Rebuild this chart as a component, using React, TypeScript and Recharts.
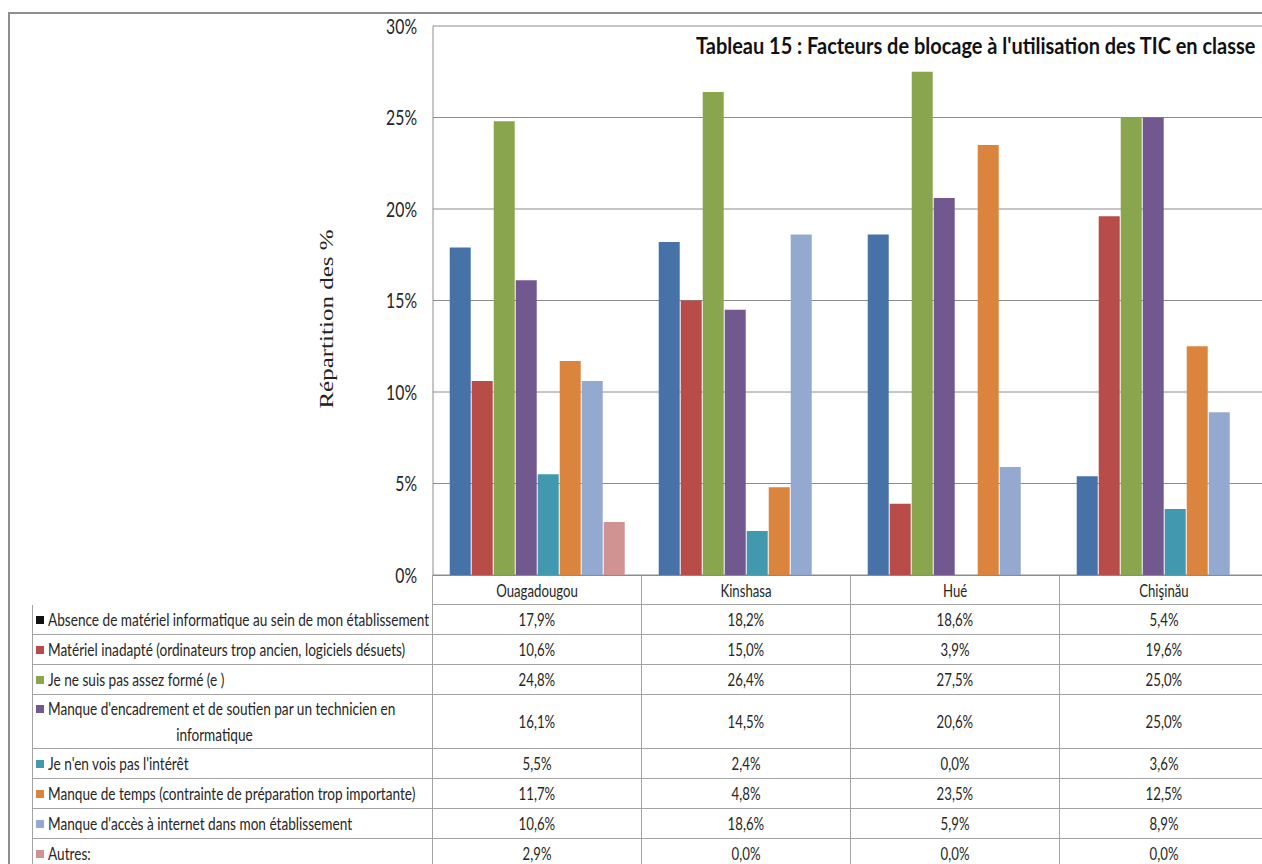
import React from "react";
import { Bar, BarChart, CartesianGrid, XAxis, YAxis } from "recharts";

const categories = ["Ouagadougou", "Kinshasa", "Hué", "Chişinău"];

const seriesNames = [
  "Absence de matériel informatique au sein de mon établissement",
  "Matériel inadapté (ordinateurs trop ancien, logiciels désuets)",
  "Je ne suis pas assez formé (e )",
  "Manque d'encadrement et de soutien par un technicien en\ninformatique",
  "Je n'en vois pas l'intérêt",
  "Manque de temps (contrainte de préparation trop importante)",
  "Manque d'accès à internet dans mon établissement",
  "Autres:",
];

const absence = [17.9, 18.2, 18.6, 5.4];
const materiel = [10.6, 15.0, 3.9, 19.6];
const forme = [24.8, 26.4, 27.5, 25.0];
const encadrement = [16.1, 14.5, 20.6, 25.0];
const interet = [5.5, 2.4, 0.0, 3.6];
const temps = [11.7, 4.8, 23.5, 12.5];
const internet = [10.6, 18.6, 5.9, 8.9];
const autres = [2.9, 0.0, 0.0, 0.0];

const seriesValues = [absence, materiel, forme, encadrement, interet, temps, internet, autres];

const yTicks = [0, 5, 10, 15, 20, 25, 30];

const title = "Tableau 15 : Facteurs de blocage à l'utilisation des TIC en classe";

const barColors = ["#4672A8", "#B74C49", "#89A54E", "#71588F", "#4198AF", "#DB843D", "#93A9CF", "#D09392"];
const keyColors = ["#111111", ...barColors.slice(1)];

const data = categories.map((name, i) => {
  const row: Record<string, string | number> = { name };
  seriesValues.forEach((vals, s) => {
    row[`s${s}`] = vals[i];
  });
  return row;
});

const font = "Lato, 'Open Sans', sans-serif";
const lineColor = "#a3a3a3";
const gridColor = "#8c8c8c";
const textColor = "#262626";

const PLOT_LEFT = 433;
const COL_W = 209;
const LABEL_W = PLOT_LEFT - 32;

const fmt = (v: number) => v.toFixed(1).replace(".", ",") + "%";

// squeeze the title into the width it has in the original
function titleScale(width: number) {
  const ctx = document.createElement("canvas").getContext("2d");
  if (!ctx) return 0.92;
  ctx.font = `bold 22px ${font}`;
  const w = ctx.measureText(title).width;
  return w > 0 ? width / w : 0.92;
}

function Narrow({
  children,
  origin = "center",
  squeeze = 0.8,
}: {
  children: React.ReactNode;
  origin?: string;
  squeeze?: number;
}) {
  return (
    <span
      style={{
        display: "inline-block",
        whiteSpace: "nowrap",
        transform: `scaleX(${squeeze})`,
        transformOrigin: `${origin} center`,
      }}
    >
      {children}
    </span>
  );
}

function YTick(props: any) {
  const { x, y, payload } = props;
  return (
    <text
      x={x}
      y={y}
      dy="0.36em"
      textAnchor="end"
      fontFamily={font}
      fontSize={21}
      fill={textColor}
      transform={`translate(${x},0) scale(0.75,1) translate(${-x},0)`}
    >
      {payload.value}%
    </text>
  );
}

function Label({ text, color }: { text: string; color: string }) {
  const [first, second] = text.split("\n");
  const key = (
    <span
      style={{
        position: "absolute",
        left: 3,
        top: second ? 9 : "50%",
        marginTop: second ? 0 : -4,
        width: 8,
        height: 8,
        background: color,
      }}
    />
  );
  return (
    <div style={{ position: "relative", width: "100%" }}>
      {key}
      <div style={{ paddingLeft: 15, lineHeight: "26px" }}>
        <Narrow origin="left" squeeze={0.825}>
          {first}
        </Narrow>
      </div>
      {second && (
        <div style={{ textAlign: "center", lineHeight: "26px", marginLeft: -36 }}>
          <Narrow squeeze={0.825}>{second}</Narrow>
        </div>
      )}
    </div>
  );
}

function DataTable() {
  const cell: React.CSSProperties = {
    boxSizing: "border-box",
    width: COL_W,
    borderRight: `1px solid ${lineColor}`,
    borderBottom: `1px solid ${lineColor}`,
    display: "flex",
    alignItems: "center",
    justifyContent: "center",
  };
  return (
    <div
      style={{
        position: "absolute",
        left: 32,
        top: 575,
        fontFamily: font,
        fontSize: 16.5,
        color: textColor,
      }}
    >
      <div style={{ display: "flex", height: 30 }}>
        <div style={{ width: LABEL_W, boxSizing: "border-box", borderRight: `1px solid ${lineColor}` }} />
        {categories.map((c) => (
          <div key={c} style={{ ...cell, borderTop: `1px solid ${gridColor}`, paddingTop: 1 }}>
            <Narrow>{c}</Narrow>
          </div>
        ))}
      </div>
      {seriesNames.map((name, s) => {
        const tall = name.includes("\n");
        return (
          <div key={name} style={{ display: "flex", height: tall ? 54 : 30 }}>
            <div
              style={{
                ...cell,
                width: LABEL_W,
                borderLeft: `1px solid ${lineColor}`,
                justifyContent: "flex-start",
              }}
            >
              <Label text={name} color={keyColors[s]} />
            </div>
            {seriesValues[s].map((v, i) => (
              <div key={i} style={cell}>
                <Narrow>{fmt(v)}</Narrow>
              </div>
            ))}
          </div>
        );
      })}
    </div>
  );
}

export default function App() {
  const tScale = React.useMemo(() => titleScale(560), []);
  return (
    <div
      style={{
        position: "absolute",
        left: 0,
        top: 0,
        width: 1262,
        height: 864,
        overflow: "hidden",
        background: "#fff",
      }}
    >
      <div
        style={{
          position: "absolute",
          left: 8,
          top: 12,
          width: 1400,
          height: 1000,
          borderTop: "2px solid #8e8e8e",
          borderLeft: "2px solid #8e8e8e",
        }}
      />
      <div style={{ position: "absolute", left: 0, top: 0 }}>
        <BarChart
          width={1300}
          height={600}
          data={data}
          margin={{ top: 26, right: 31, bottom: 25, left: 373 }}
          barCategoryGap="8%"
          barGap={1}
        >
          <CartesianGrid vertical={false} stroke={gridColor} />
          <XAxis dataKey="name" hide />
          <YAxis
            domain={[0, 30]}
            ticks={yTicks}
            width={60}
            tickSize={0}
            tickMargin={16}
            tickLine={false}
            axisLine={{ stroke: gridColor }}
            tick={<YTick />}
            interval={0}
          />
          {seriesNames.map((name, s) => (
            <Bar
              key={name}
              dataKey={`s${s}`}
              name={name}
              fill={barColors[s]}
              isAnimationActive={false}
            />
          ))}
        </BarChart>
      </div>
      <div
        style={{
          position: "absolute",
          left: 696,
          top: 33,
          fontFamily: font,
          fontWeight: "bold",
          fontSize: 22,
          lineHeight: "26px",
          color: "#111",
          whiteSpace: "nowrap",
          transform: `scaleX(${tScale})`,
          transformOrigin: "left center",
        }}
      >
        {title}
      </div>
      <div
        style={{
          position: "absolute",
          left: 327,
          top: 319,
          fontFamily: '"Liberation Serif", "DejaVu Serif", serif',
          fontSize: 25,
          color: "#222",
          whiteSpace: "nowrap",
          transform: "translate(-50%, -50%) rotate(-90deg) scaleY(0.74)",
        }}
      >
        Répartition des %
      </div>
      <DataTable />
    </div>
  );
}
